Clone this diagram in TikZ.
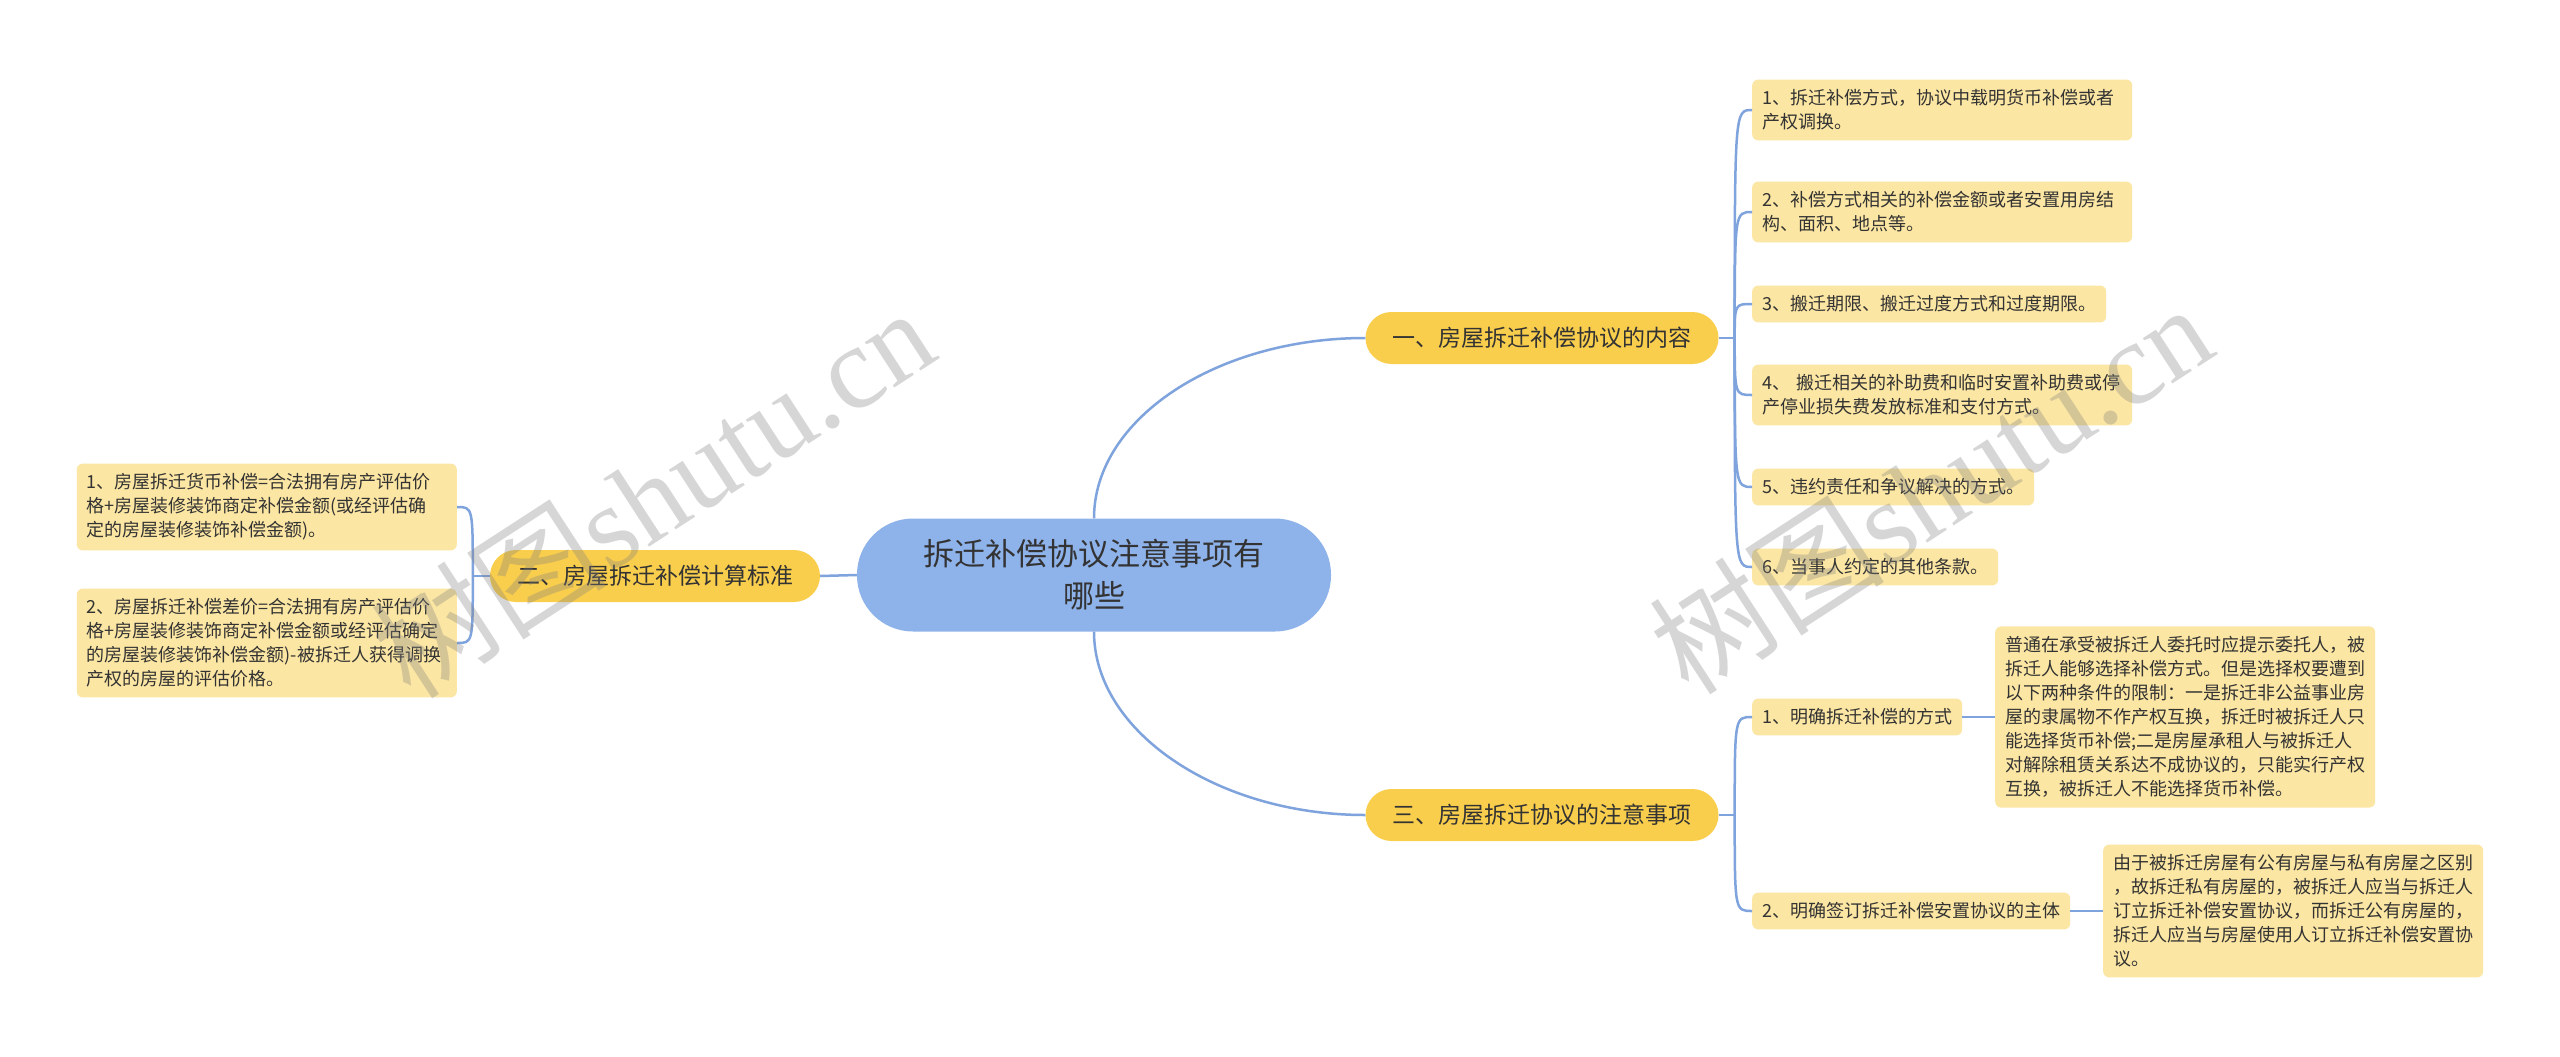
\documentclass[tikz,border=0pt]{standalone}
\usepackage{fontspec}
\setmainfont{Noto Sans CJK SC}
\newfontfamily\wmfont{Liberation Serif}
\definecolor{hubblue}{RGB}{142,178,234}
\definecolor{topicgold}{RGB}{250,206,77}
\definecolor{leafyellow}{RGB}{252,230,163}
\definecolor{linkblue}{RGB}{127,163,220}
\definecolor{ink}{RGB}{51,51,51}

\begin{document}
\begin{tikzpicture}[x=1pt,y=-1pt,
hub/.style={rectangle, fill=hubblue, text=ink, align=center, rounded corners=56pt, minimum width=474pt, minimum height=113pt, font=\fontsize{31}{42}\selectfont},
topic/.style={rectangle, fill=topicgold, text=ink, align=center, rounded corners=26pt, minimum height=52pt, inner xsep=27pt, font=\fontsize{23}{28}\selectfont},
leaf/.style={rectangle, fill=leafyellow, text=ink, align=left, rounded corners=6pt, inner xsep=10pt, inner ysep=10pt, font=\fontsize{18}{24}\selectfont},
note/.style={leaf, text width=360pt},
link/.style={draw=linkblue, line width=2.5pt},
wmark/.style={text=gray, text opacity=0.32, rotate=33, font=\fontsize{118}{118}\selectfont}]

\fill[white] (0,0) rectangle (2560,1057);

\draw (1094,575) node[hub] (Hub) {拆迁补偿协议注意事项有\\哪些};
\draw (1542,338) node[topic] (T1) {一、房屋拆迁补偿协议的内容};
\draw (655,576) node[topic] (T2) {二、房屋拆迁补偿计算标准};
\draw (1542,815) node[topic] (T3) {三、房屋拆迁协议的注意事项};

\draw (1752,110) node[note,anchor=west] (A1) {1、拆迁补偿方式，协议中载明货币补偿或者\\产权调换。};
\draw (1752,212) node[note,anchor=west] (A2) {2、补偿方式相关的补偿金额或者安置用房结\\构、面积、地点等。};
\draw (1752,304) node[leaf,anchor=west] (A3) {3、搬迁期限、搬迁过度方式和过度期限。};
\draw (1752,395) node[note,anchor=west] (A4) {4、~搬迁相关的补助费和临时安置补助费或停\\产停业损失费发放标准和支付方式。};
\draw (1752,487) node[leaf,anchor=west] (A5) {5、违约责任和争议解决的方式。};
\draw (1752,567) node[leaf,anchor=west] (A6) {6、当事人约定的其他条款。};

\draw (457,507) node[note,anchor=east] (C1) {1、房屋拆迁货币补偿=合法拥有房产评估价\\格+房屋装修装饰商定补偿金额(或经评估确\\定的房屋装修装饰补偿金额)。};
\draw (457,643) node[note,anchor=east] (C2) {2、房屋拆迁补偿差价=合法拥有房产评估价\\格+房屋装修装饰商定补偿金额或经评估确定\\的房屋装修装饰补偿金额)-被拆迁人获得调换\\产权的房屋的评估价格。};

\draw (1752,717) node[leaf,anchor=west] (B1) {1、明确拆迁补偿的方式};
\draw (1995,717) node[note,anchor=west] (B1n) {普通在承受被拆迁人委托时应提示委托人，被\\拆迁人能够选择补偿方式。但是选择权要遭到\\以下两种条件的限制：一是拆迁非公益事业房\\屋的隶属物不作产权互换，拆迁时被拆迁人只\\能选择货币补偿;二是房屋承租人与被拆迁人\\对解除租赁关系达不成协议的，只能实行产权\\互换，被拆迁人不能选择货币补偿。};
\draw (1752,911) node[leaf,anchor=west] (B2) {2、明确签订拆迁补偿安置协议的主体};
\draw (2103,911) node[note,anchor=west] (B2n) {由于被拆迁房屋有公有房屋与私有房屋之区别\\，故拆迁私有房屋的，被拆迁人应当与拆迁人\\订立拆迁补偿安置协议，而拆迁公有房屋的，\\拆迁人应当与房屋使用人订立拆迁补偿安置协\\议。};

\draw[link] (Hub.west)--(T2.east);
\draw[link] (Hub.north) .. controls +(0,-100) and +(-148,0) .. (T1.west);
\draw[link] (Hub.south) .. controls +(0,100) and +(-148,0) .. (T3.west);

\draw[link] (T1.east)--++(16,0) coordinate (J1);
\draw[link] (J1) .. controls (J1 |- A1.west) .. (A1.west);
\draw[link] (J1) .. controls (J1 |- A2.west) .. (A2.west);
\draw[link] (J1) .. controls (J1 |- A3.west) .. (A3.west);
\draw[link] (J1) .. controls (J1 |- A4.west) .. (A4.west);
\draw[link] (J1) .. controls (J1 |- A5.west) .. (A5.west);
\draw[link] (J1) .. controls (J1 |- A6.west) .. (A6.west);

\draw[link] (T2.west)--++(-17,0) coordinate (J2);
\draw[link] (J2) .. controls (J2 |- C1.east) .. (C1.east);
\draw[link] (J2) .. controls (J2 |- C2.east) .. (C2.east);

\draw[link] (T3.east)--++(16,0) coordinate (J3);
\draw[link] (J3) .. controls (J3 |- B1.west) .. (B1.west);
\draw[link] (J3) .. controls (J3 |- B2.west) .. (B2.west);
\draw[link] (B1.east)--(B1n.west);
\draw[link] (B2.east)--(B2n.west);

\draw (652,492) node[wmark] (WM1) {树图{\wmfont shutu.cn}};
\draw (1930,488) node[wmark] (WM2) {树图{\wmfont shutu.cn}};

\end{tikzpicture}
\end{document}
